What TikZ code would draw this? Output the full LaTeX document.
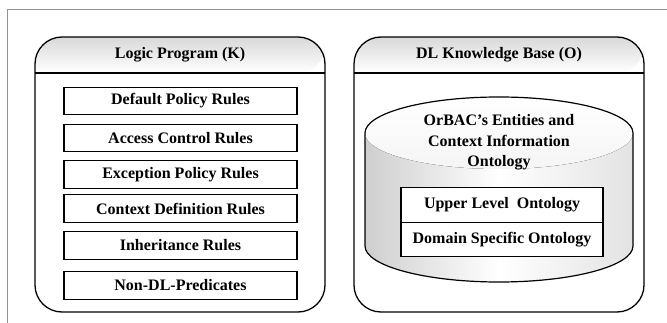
\documentclass[tikz,border=0pt]{standalone}
\usepackage{fontspec}
\setmainfont{Liberation Serif}
\begin{document}
\begin{tikzpicture}[x=1pt,y=-1pt,
  lbl/.style={font=\fontsize{16}{20.5}\selectfont\bfseries, inner sep=0pt, align=center},
  rulebox/.style={draw, line width=1.1pt, minimum width=233pt, minimum height=27.5pt, inner sep=0pt, lbl},
  ontobox/.style={draw, line width=1.1pt, minimum width=202pt, minimum height=34.5pt, inner sep=0pt, lbl, fill=white},
  container/.style={draw, line width=1.3pt, rounded corners=27pt},
  headshade/.style={top color=gray!30, bottom color=white},
  frameline/.style={draw=gray!85, line width=1pt}
]
\useasboundingbox (0,0) rectangle (667,323);
% outer frame
\coordinate (fa) at (7.5,323);
\coordinate (fb) at (7.5,9.5);
\coordinate (fc) at (667,9.5);
\draw[frameline] (fa) -- (fb) -- (fc);

% left container
\path[headshade] (35,73) [rounded corners=27pt] -- (35,37) -- (325,37) -- (325,73) [sharp corners] -- cycle;
\draw[container] (35,37) rectangle (325,312);
\draw[line width=1.1pt] (35,73) -- (325,73);
\node[lbl] (lp) at (180,55) {Logic Program (K)};

\node[rulebox] (r1) at (180.5,101) {Default Policy Rules};
\node[rulebox] (r2) at (180.5,138) {Access Control Rules};
\node[rulebox] (r3) at (180.5,174.5) {Exception Policy Rules};
\node[rulebox] (r4) at (180.5,208.5) {Context Definition Rules};
\node[rulebox] (r5) at (180.5,245.5) {Inheritance Rules};
\node[rulebox] (r6) at (180.5,285.5) {Non-DL-Predicates};

% right container
\path[headshade] (354,73) [rounded corners=27pt] -- (354,37) -- (644,37) -- (644,73) [sharp corners] -- cycle;
\draw[container] (354,37) rectangle (644,312);
\draw[line width=1.1pt] (354,73) -- (644,73);
\node[lbl] (kb) at (499,55) {DL Knowledge Base (O)};

% cylinder
\path[left color=gray!38, right color=gray!22, middle color=white]
  (365,133) -- (365,246) arc (180:360:134pt and 36pt) -- (633,133) arc (0:180:134pt and 36pt) -- cycle;
\fill[top color=white, bottom color=white!92!gray] (499,133) ellipse (134pt and 36pt);
\draw[line width=1.2pt]
  (365,133) -- (365,246) arc (180:360:134pt and 36pt) -- (633,133) arc (0:180:134pt and 36pt) -- cycle;
\node[lbl] (cyl) at (499,142.5) {OrBAC's Entities and\\Context Information\\Ontology};

\node[ontobox] (up) at (502,205) {Upper Level\ \ Ontology};
\node[ontobox] (dom) at (502,239.5) {Domain Specific Ontology};
\end{tikzpicture}
\end{document}
